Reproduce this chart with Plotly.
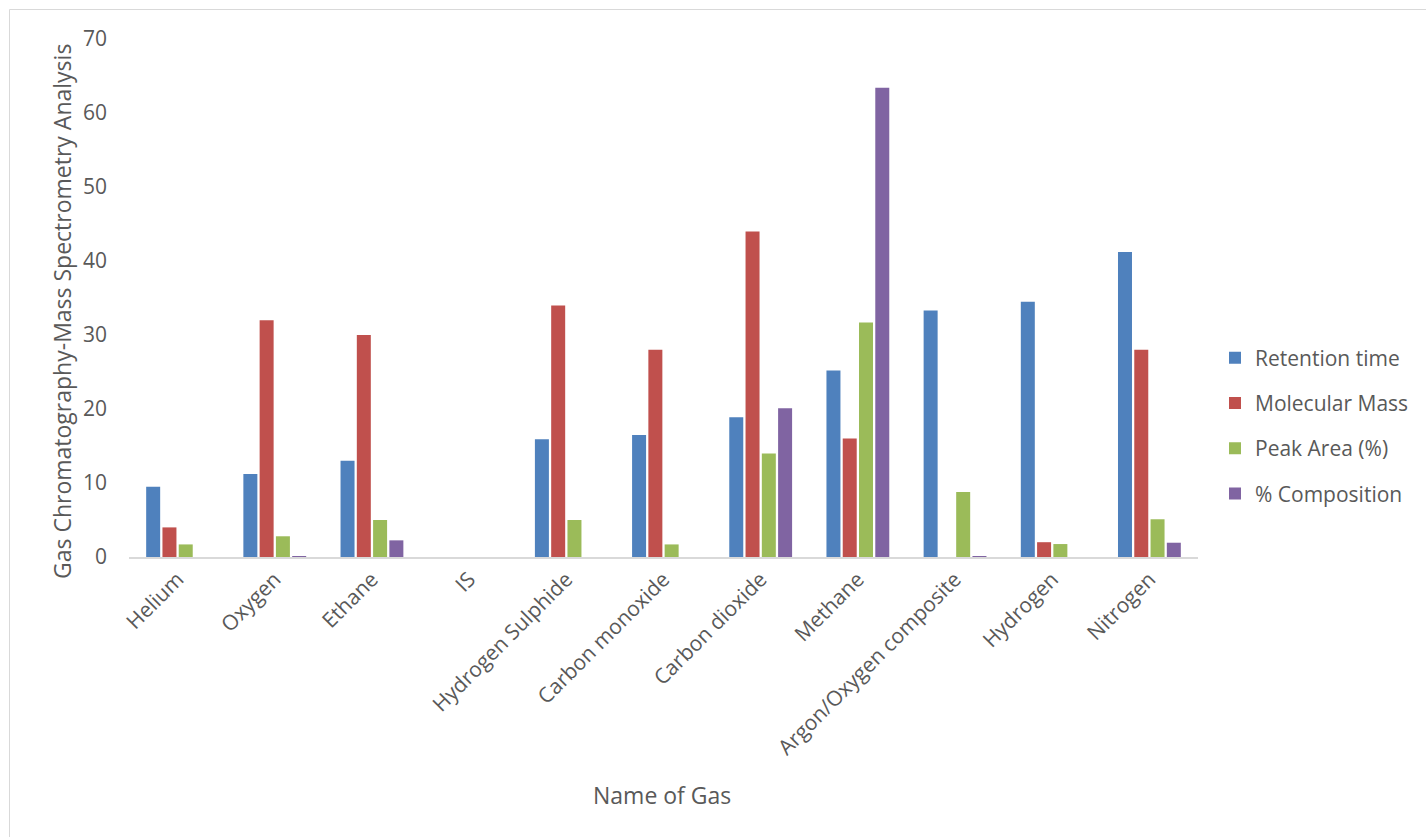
import plotly.graph_objects as go

categories = ["Helium", "Oxygen", "Ethane", "IS", "Hydrogen Sulphide", "Carbon monoxide",
              "Carbon dioxide", "Methane", "Argon/Oxygen composite", "Hydrogen", "Nitrogen"]
retention_time = [9.5, 11.2, 13.0, 0, 15.9, 16.5, 18.9, 25.2, 33.3, 34.5, 41.2]
molecular_mass = [4, 32, 30, 0, 34, 28, 44, 16, 0, 2, 28]
peak_area = [1.7, 2.8, 5.0, 0, 5.0, 1.7, 14.0, 31.7, 8.8, 1.75, 5.1]
composition = [0, 0.1, 2.25, 0, 0, 0, 20.1, 63.4, 0.1, 0, 1.93]

series = [
    ("Retention time", retention_time, "#4F81BD"),
    ("Molecular Mass", molecular_mass, "#C0504D"),
    ("Peak Area (%)", peak_area, "#9BBB59"),
    ("% Composition", composition, "#8064A2"),
]

FONT = "Open Sans"
TXT = "#595959"

fig = go.Figure()
for name, vals, color in series:
    fig.add_trace(go.Bar(
        x=categories, y=vals, name=name, legendgroup=name,
        marker=dict(color=color, line=dict(width=0)),
    ))

L, R, T, B = 129, 228, 39, 280
W, H = 1426, 837
pw, ph = W - L - R, H - T - B

fig.update_layout(
    width=W, height=H,
    margin=dict(l=L, r=R, t=T, b=B, autoexpand=False),
    paper_bgcolor="white", plot_bgcolor="white",
    barmode="group", bargap=0.33, bargroupgap=0.14,
    font=dict(family=FONT, size=21, color=TXT),
    showlegend=True,
    legend=dict(
        x=(1215 - L) / pw, xanchor="left",
        y=(557 - 426) / ph, yanchor="middle",
        font=dict(family=FONT, size=21, color=TXT),
        tracegroupgap=15, bgcolor="rgba(0,0,0,0)",
        itemclick=False,
    ),
    xaxis=dict(
        tickangle=-45, showgrid=False, zeroline=False,
        showline=True, linecolor="#D9D9D9", linewidth=1.5,
        ticks="", tickfont=dict(family=FONT, size=21, color=TXT),
    ),
    yaxis=dict(
        range=[0, 70], dtick=10, showgrid=False, zeroline=False, showline=False,
        ticks="", ticklabelstandoff=21,
        tickfont=dict(family=FONT, size=21, color=TXT),
    ),
    annotations=[
        dict(
            text="Name of Gas", xref="paper", yref="paper",
            x=(662 - L) / pw, y=(557 - 795) / ph, xanchor="center", yanchor="middle",
            showarrow=False, font=dict(family=FONT, size=23, color=TXT),
        ),
        dict(
            text="Gas Chromatography-Mass Spectrometry Analysis", xref="paper", yref="paper",
            x=(62 - L) / pw, y=(557 - 312) / ph, xanchor="center", yanchor="middle",
            textangle=-90, showarrow=False, font=dict(family=FONT, size=23, color=TXT),
        ),
    ],
    shapes=[dict(
        type="rect", xref="paper", yref="paper",
        x0=(9.5 - L) / pw, x1=(W + 20 - L) / pw,
        y0=(557 - (H + 20)) / ph, y1=(557 - 9.5) / ph,
        line=dict(color="#D9D9D9", width=1), fillcolor="rgba(0,0,0,0)", layer="below",
    )],
)

fig.write_html("out.html")
